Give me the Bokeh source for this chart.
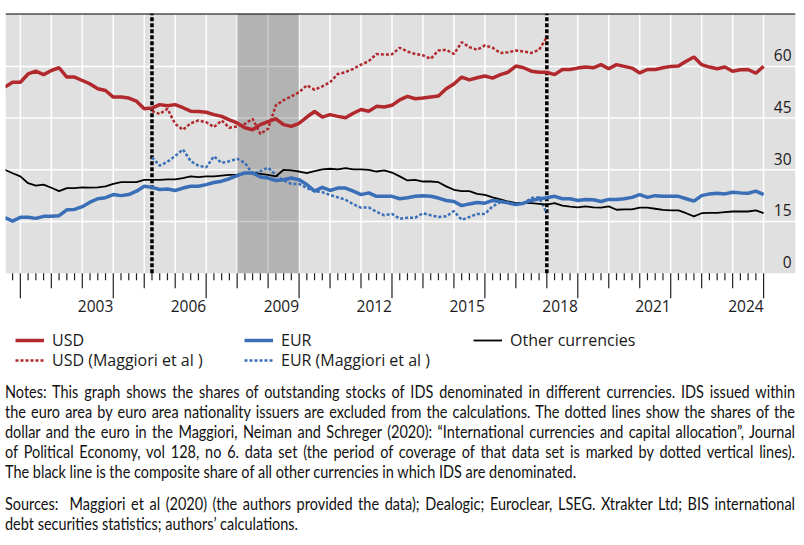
from bokeh.plotting import figure
from bokeh.models import Range1d, BoxAnnotation, Span, Legend, LegendItem, Div
from bokeh.layouts import column
from bokeh.core.properties import value
from bokeh.embed import file_html
from bokeh.resources import INLINE

# ---------------- data (quarterly, share in %) ----------------
start_year = 1999.5
step = 0.25

usd = [54.0, 55.4, 55.4, 57.8, 58.6, 57.6, 58.8, 59.6, 56.9, 56.9,
       55.9, 54.9, 53.5, 53.0, 51.1, 51.1, 50.8, 49.9, 47.7, 47.9,
       48.9, 48.6, 48.9, 48.0, 47.0, 46.9, 46.7, 46.0, 45.5, 44.5,
       43.6, 42.2, 41.6, 43.1, 44.0, 44.8, 43.1, 42.6, 43.5, 45.3,
       46.9, 45.3, 46.0, 45.5, 45.1, 46.4, 47.5, 47.0, 48.4, 48.2,
       48.7, 50.3, 51.3, 50.6, 50.8, 51.1, 51.4, 53.5, 54.9, 56.9,
       56.1, 56.7, 57.2, 56.6, 57.6, 58.3, 60.1, 59.6, 58.6, 58.3,
       58.3, 57.6, 59.1, 59.1, 59.5, 59.8, 59.6, 60.5, 59.3, 60.5,
       60.0, 59.5, 58.1, 59.1, 59.1, 59.6, 60.0, 60.1, 61.5, 62.7,
       60.5, 59.8, 59.3, 59.8, 58.6, 59.0, 59.1, 58.0, 60.0]

eur = [16.1, 15.1, 16.2, 16.2, 15.9, 16.5, 16.5, 16.7, 18.4, 18.5,
       19.3, 20.6, 21.6, 21.9, 22.8, 22.5, 22.8, 23.8, 25.2, 24.9,
       24.3, 24.4, 24.0, 24.7, 25.2, 25.2, 25.7, 26.3, 26.7, 27.4,
       28.3, 29.1, 29.1, 27.9, 27.6, 26.9, 27.1, 27.6, 27.1, 25.7,
       23.8, 24.9, 24.0, 24.7, 24.7, 23.8, 22.8, 23.3, 22.3, 22.3,
       22.3, 21.6, 21.9, 22.3, 22.5, 22.3, 21.8, 21.1, 20.8, 19.6,
       20.1, 20.5, 20.3, 21.1, 20.8, 20.4, 19.9, 20.3, 21.1, 21.6,
       21.9, 22.3, 21.6, 21.6, 21.1, 21.4, 21.3, 20.8, 21.4, 21.4,
       21.6, 22.0, 22.8, 22.0, 22.5, 22.3, 22.3, 22.3, 21.6, 20.9,
       22.5, 23.0, 23.2, 23.0, 23.5, 23.3, 23.2, 23.8, 22.8]

other = [30.0, 29.0, 28.1, 26.1, 25.4, 25.7, 24.8, 23.8, 24.7, 24.7,
         24.9, 24.8, 24.9, 25.2, 25.9, 26.4, 26.4, 26.4, 27.1, 27.1,
         27.1, 27.2, 27.2, 27.6, 28.1, 27.9, 28.1, 28.1, 28.3, 28.5,
         28.6, 29.0, 29.1, 28.8, 28.5, 28.1, 30.0, 29.8, 29.5, 29.0,
         29.6, 30.1, 30.3, 30.1, 30.5, 30.1, 30.1, 30.0, 29.5, 29.8,
         29.2, 28.1, 26.9, 27.1, 26.6, 26.6, 26.4, 25.2, 24.2, 23.8,
         23.8, 23.0, 22.7, 22.0, 21.4, 20.8, 20.3, 20.4, 20.3, 20.1,
         19.9, 20.3, 19.6, 19.3, 19.1, 19.4, 19.1, 19.0, 19.4, 18.4,
         18.5, 18.5, 19.0, 19.0, 18.7, 18.4, 18.2, 18.2, 17.4, 16.5,
         17.4, 17.5, 17.5, 17.7, 17.9, 17.9, 17.9, 18.2, 17.4]

maggiori_first = 19  # index of first Maggiori observation
usd_maggiori = [47.0, 46.2, 47.7, 43.3, 41.6, 43.5, 44.3, 43.8, 42.4, 44.3,
                42.2, 42.6, 43.3, 44.8, 40.4, 41.9, 48.7, 50.2, 51.3, 52.5,
                54.5, 53.2, 54.2, 55.4, 57.8, 58.3, 59.3, 60.5, 61.5, 63.6,
                63.4, 63.5, 65.4, 64.3, 63.6, 63.2, 62.2, 64.6, 64.8, 63.6,
                67.0, 65.6, 64.8, 66.1, 65.4, 63.9, 64.1, 64.6, 64.3, 63.9,
                64.8, 68.5]
eur_maggiori = [33.6, 31.2, 32.3, 34.0, 35.9, 32.5, 31.2, 30.7, 33.9, 32.0,
                32.5, 33.2, 32.0, 28.8, 29.6, 30.6, 28.5, 26.9, 25.9, 25.9,
                24.7, 23.8, 23.5, 22.7, 22.0, 21.3, 20.0, 19.0, 19.1, 17.8,
                16.8, 17.2, 15.8, 16.1, 16.1, 17.4, 16.8, 16.3, 16.5, 18.0,
                15.5, 16.3, 17.2, 17.2, 19.4, 20.6, 20.5, 20.3, 20.3, 21.8,
                22.0, 17.4]

coverage_lines = [2004.25, 2017.0]      # Maggiori data set coverage
shade_period = [2007.0, 2009.0]         # shaded period
grid_years = list(range(2000, 2025))
label_years = [2003, 2006, 2009, 2012, 2015, 2018, 2021, 2024]
y_ticks = [0, 15, 30, 45, 60]

dates = [start_year + step * i for i in range(len(usd))]
dates_m = dates[maggiori_first:maggiori_first + len(usd_maggiori)]

# ---------------- styling ----------------
RED = "#b1282d"
BLUE = "#3a6fb7"
BG = "#e0e0e0"
FONT = "Open Sans"
NOTE_FONT = "Lato"
PX_PER_UNIT = 3.447          # vertical scale (px per percentage point)
FRAME_H = 359
FRAME_W = 790
Y_TOP = 75.34
Y_BOT = Y_TOP - FRAME_H / PX_PER_UNIT
X0, X1 = 1999.52, 2025.03

p = figure(frame_width=FRAME_W, frame_height=FRAME_H,
           x_range=Range1d(X0, X1), y_range=Range1d(Y_BOT, Y_TOP),
           x_axis_location=None, y_axis_location=None,
           toolbar_location=None, output_backend="svg",
           min_border_left=5, min_border_right=6, min_border_top=13, min_border_bottom=0)
p.grid.visible = False
p.outline_line_color = None
p.background_fill_color = "white"
p.border_fill_color = "white"

# gray plotting area (above zero)
p.add_layout(BoxAnnotation(bottom=0, fill_color=BG, fill_alpha=1.0,
                           line_color=None, level="underlay"))

# white grid lines
p.segment(x0=grid_years, y0=[0] * len(grid_years), x1=grid_years,
          y1=[Y_TOP] * len(grid_years), line_color="white", line_width=1.5)
hy = [v for v in y_ticks if v > 0]
p.segment(x0=[X0] * len(hy), y0=hy, x1=[X1] * len(hy), y1=hy,
          line_color="white", line_width=1.5)

# shaded period
p.quad(left=[shade_period[0]], right=[shade_period[1]], bottom=[0], top=[Y_TOP],
       fill_color="black", fill_alpha=0.2, line_color=None)

# top rule
p.add_layout(Span(location=Y_TOP, dimension="width", line_color="black", line_width=2))

# x ticks (quarters, years, every third year)
q_ticks = [y + q for y in range(1999, 2024) for q in (0.25, 0.5, 0.75) if y + q > X0]
yr_ticks = [y for y in grid_years if y not in range(2000, 2025, 3)]
big_ticks = list(range(2000, 2025, 3))
for ticks, length in ((q_ticks, 7), (yr_ticks, 15), (big_ticks, 25)):
    p.segment(x0=ticks, y0=[0] * len(ticks), x1=ticks,
              y1=[-length / PX_PER_UNIT] * len(ticks), line_color="#222222", line_width=1.2)

# x labels (right-aligned at the tick)
p.text(x=label_years, y=[0] * len(label_years), text=[str(v) for v in label_years],
       text_align="right", text_baseline="top", y_offset=27,
       text_font=value(FONT), text_font_size="15.5px", text_color="#1a1a1a")

# y labels inside the plot, right side, sitting above their grid line
p.text(x=[X1] * len(y_ticks), y=y_ticks, text=[str(v) for v in y_ticks],
       text_align="right", text_baseline="top", x_offset=-4, y_offset=-17,
       text_font=value(FONT), text_font_size="15.5px", text_color="#1a1a1a")

# vertical dotted coverage lines
p.segment(x0=coverage_lines, y0=[0, 0], x1=coverage_lines, y1=[Y_TOP, Y_TOP],
          line_color="black", line_width=3.5, line_dash="4 2")

# series
r_usd_m = p.line(dates_m, usd_maggiori, line_color=RED, line_width=2.5, line_dash="3 2")
r_eur_m = p.line(dates_m, eur_maggiori, line_color=BLUE, line_width=2.5, line_dash="3 2")
r_oth = p.line(dates, other, line_color="black", line_width=1.8)
r_eur = p.line(dates, eur, line_color=BLUE, line_width=3.5)
r_usd = p.line(dates, usd, line_color=RED, line_width=3.5)

def make_legend(items, loc):
    return Legend(items=items, orientation="horizontal", location=loc,
                  glyph_width=29, glyph_height=20, label_standoff=8,
                  label_width=185, label_height=20, spacing=7,
                  padding=0, margin=0, border_line_color=None,
                  background_fill_alpha=0,
                  label_text_font=FONT, label_text_font_size="16px",
                  label_text_color="#1a1a1a")

p.add_layout(make_legend([LegendItem(label="USD", renderers=[r_usd]),
                          LegendItem(label="EUR", renderers=[r_eur]),
                          LegendItem(label="Other currencies", renderers=[r_oth])], (10, 21)))
p.add_layout(make_legend([LegendItem(label="USD (Maggiori et al )", renderers=[r_usd_m]),
                          LegendItem(label="EUR (Maggiori et al )", renderers=[r_eur_m])], (10, 1)))

# ---------------- notes ----------------
notes_lines = [
    "Notes: This graph shows the shares of outstanding stocks of IDS denominated in different currencies. IDS issued within",
    "the euro area by euro area nationality issuers are excluded from the calculations. The dotted lines show the shares of the",
    "dollar and the euro in the Maggiori, Neiman and Schreger (2020): \u201cInternational currencies and capital allocation\u201d, Journal",
    "of Political Economy, vol 128, no 6. data set (the period of coverage of that data set is marked by dotted vertical lines).",
    "The black line is the composite share of all other currencies in which IDS are denominated.",
]
source_lines = [
    "Sources:\u00a0 Maggiori et al (2020) (the authors provided the data); Dealogic; Euroclear, LSEG. Xtrakter Ltd; BIS international",
    "debt securities statistics; authors\u2019 calculations.",
]

INNER_W = 900
SCALE = 790 / INNER_W

def block(lines):
    out = []
    for i, ln in enumerate(lines):
        align = "left" if i == len(lines) - 1 else "justify"
        out.append(f'<div style="white-space:nowrap;text-align:justify;text-align-last:{align};">{ln}</div>')
    return "".join(out)

html = (f'<div style="font-family:\'{NOTE_FONT}\';font-size:16.5px;line-height:20px;color:#111;'
        f'width:{INNER_W}px;transform:scaleX({SCALE:.4f});transform-origin:0 0;padding-top:10px;">'
        + block(notes_lines)
        + '<div style="height:12px"></div>'
        + block(source_lines)
        + '</div>')

notes = Div(text=html, width=790, height=160, margin=(0, 0, 0, 5))

layout = column(p, notes, spacing=0)
open("out.html", "w").write(file_html(layout, INLINE))
